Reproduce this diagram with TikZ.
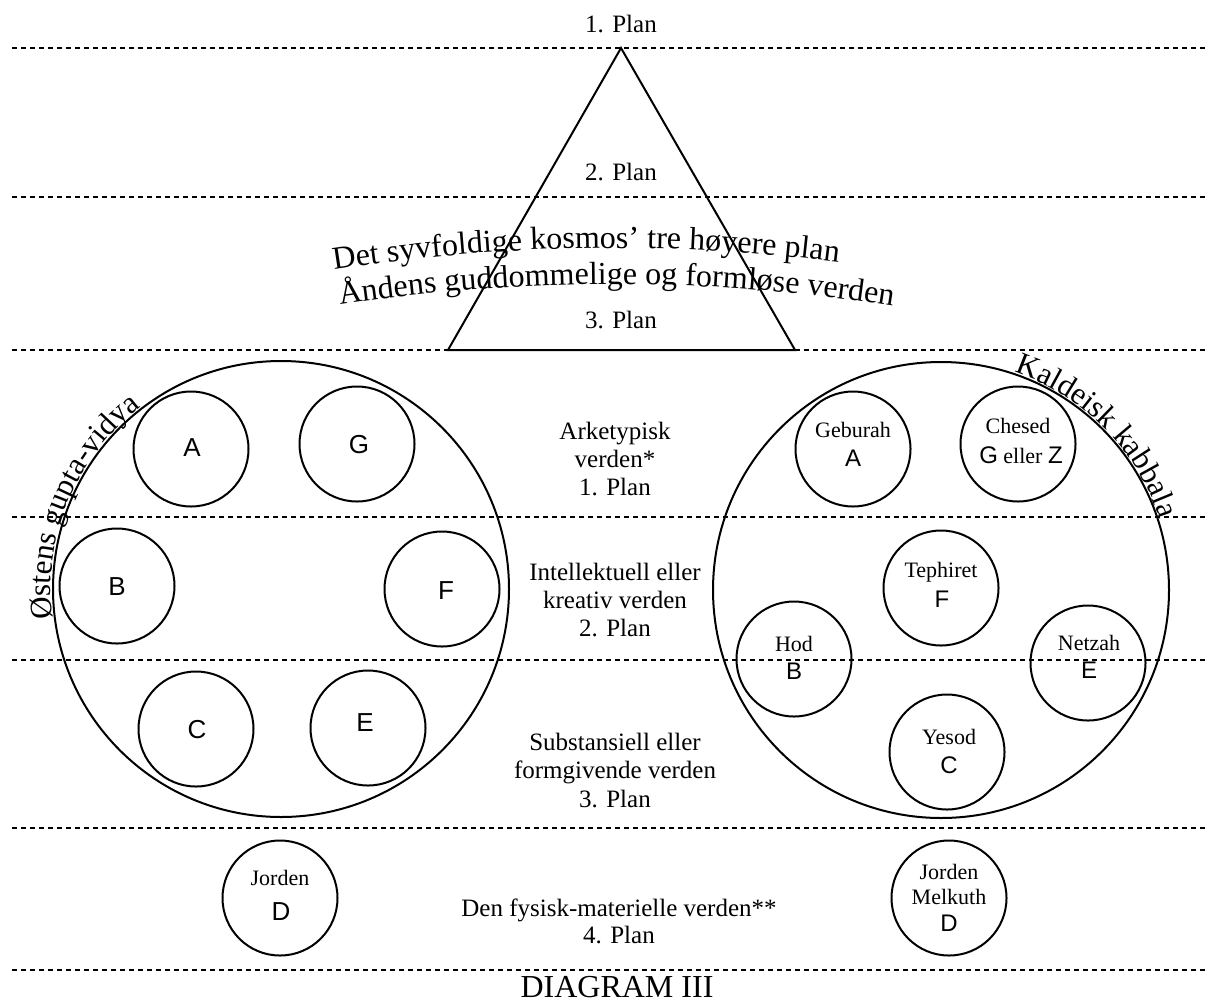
\documentclass[tikz,border=0pt]{standalone}
\usepackage{fontspec}
\setmainfont{Liberation Serif}
\setsansfont{Liberation Sans}
\usetikzlibrary{decorations.text}
\newcommand\curvefont{\fontsize{32}{32}\selectfont}
\newcommand\circfont{\fontsize{31}{31}\selectfont}
\tikzset{
  plane/.style={line width=2pt, dash pattern=on 4.5pt off 4.5pt},
  solidline/.style={line width=2pt},
  bigc/.style={circle, draw, line width=2pt, minimum size=456pt, inner sep=0pt},
  smallc/.style={circle, draw, line width=2pt, minimum size=115pt, inner sep=0pt},
  txt/.style={font=\fontsize{25}{28}\selectfont, inner sep=0pt, anchor=base},
  titletxt/.style={font=\fontsize{32}{34}\selectfont, inner sep=0pt, anchor=base},
  inl/.style={font=\fontsize{22}{24}\selectfont, inner sep=0pt, anchor=base},
  letL/.style={font=\sffamily\fontsize{26}{28}\selectfont, inner sep=0pt, anchor=base},
  letR/.style={font=\sffamily\fontsize{24}{26}\selectfont, inner sep=0pt, anchor=base},
}
\begin{document}
\begin{tikzpicture}[x=1pt,y=-1pt]
\useasboundingbox (0,0) rectangle (1209,1002);

% plane lines
\foreach \yy in {48,197,350,517,660,828,970}
  \draw[plane] (12,\yy) -- (1205,\yy);

% triangle
\coordinate (tapex) at (621,48);
\coordinate (tright) at (795,350);
\coordinate (tleft) at (448,350);
\draw[solidline, line join=miter] (tapex) -- (tright) -- (tleft) -- cycle;

% top labels
\node[txt] (p1) at (621,32) {1. Plan};
\node[txt] (p2) at (621,180) {2. Plan};
\node[txt] (p3) at (621,328) {3. Plan};

% curved texts
\path[decorate, decoration={text along path, text align=left,
  text={|\curvefont|Det syvfoldige kosmos’ tre høyere plan}}]
  ([shift={(-98.88:1800)}]612,2048) arc[start angle=-98.88, end angle=-70, radius=1800];
\path[decorate, decoration={text along path, text align=left,
  text={|\curvefont|Åndens guddommelige og formløse verden}}]
  ([shift={(-98.69:1800)}]612,2084) arc[start angle=-98.69, end angle=-70, radius=1800];

% big circles
\node[bigc] (L) at (281,589) {};
\node[bigc] (R) at (941,590) {};

\path[decorate, decoration={text along path, text align=center,
  text={|\circfont|Østens gupta-vidya}}]
  ([shift={(-200:230)}]281,589) arc[start angle=-200, end angle=-115, radius=230];
\path[decorate, decoration={text along path, text align=center,
  text={|\circfont|Kaldeisk kabbala}}]
  ([shift={(-85:230)}]941,590) arc[start angle=-85, end angle=-4.4, radius=230];

% left inner circles
\node[smallc] (LA) at (191,449) {};
\node[smallc] (LG) at (357,444) {};
\node[smallc] (LB) at (117,586) {};
\node[smallc] (LF) at (442,589) {};
\node[smallc] (LC) at (196,729) {};
\node[smallc] (LE) at (368,728) {};
\node[smallc] (LD) at (280,898) {};
\node[letL] (tLA) at (192,456) {A};
\node[letL] (tLG) at (359,453) {G};
\node[letL] (tLB) at (117,595) {B};
\node[letL] (tLF) at (446,599) {F};
\node[letL] (tLC) at (197,738) {C};
\node[letL] (tLE) at (365,731) {E};
\node[inl] (tLDj) at (280,885) {Jorden};
\node[letL] (tLD) at (281,920) {D};

% right inner circles
\node[smallc] (geb) at (853,449) {};
\node[smallc] (ches) at (1018,444) {};
\node[smallc] (teph) at (941,588) {};
\node[smallc] (hod) at (794,659) {};
\node[smallc] (netz) at (1088,663) {};
\node[smallc] (yes) at (947,752) {};
\node[smallc] (jordR) at (949,898) {};
\node[inl] (tgeb) at (853,437) {Geburah};
\node[letR] (tgebA) at (853,466) {A};
\node[inl] (tches) at (1018,433) {Chesed};
\node[inl] (tchesG) at (1021,463) {{\sffamily\fontsize{24}{26}\selectfont G} eller {\sffamily\fontsize{24}{26}\selectfont Z}};
\node[inl] (tteph) at (941,577) {Tephiret};
\node[letR] (ttephF) at (942,607) {F};
\node[inl] (thod) at (794,651) {Hod};
\node[letR] (thodB) at (794,679) {B};
\node[inl] (tnetz) at (1089,650) {Netzah};
\node[letR] (tnetzE) at (1089,678) {E};
\node[inl] (tyes) at (949,744) {Yesod};
\node[letR] (tyesC) at (949,773) {C};
\node[inl] (tjr1) at (949,879) {Jorden};
\node[inl] (tjr2) at (949,904) {Melkuth};
\node[letR] (tjrD) at (949,931) {D};

% middle labels
\node[txt] (a1) at (615,439) {Arketypisk};
\node[txt] (a2) at (615,467) {verden*};
\node[txt] (a3) at (615,495) {1. Plan};
\node[txt] (i1) at (615,580) {Intellektuell eller};
\node[txt] (i2) at (615,608) {kreativ verden};
\node[txt] (i3) at (615,636) {2. Plan};
\node[txt] (s1) at (615,750) {Substansiell eller};
\node[txt] (s2) at (615,778) {formgivende verden};
\node[txt] (s3) at (615,807) {3. Plan};
\node[txt] (f1) at (619,916) {Den fysisk-materielle verden**};
\node[txt] (f2) at (619,943) {4. Plan};

\node[titletxt] (title) at (617,997) {DIAGRAM III};
\end{tikzpicture}
\end{document}
